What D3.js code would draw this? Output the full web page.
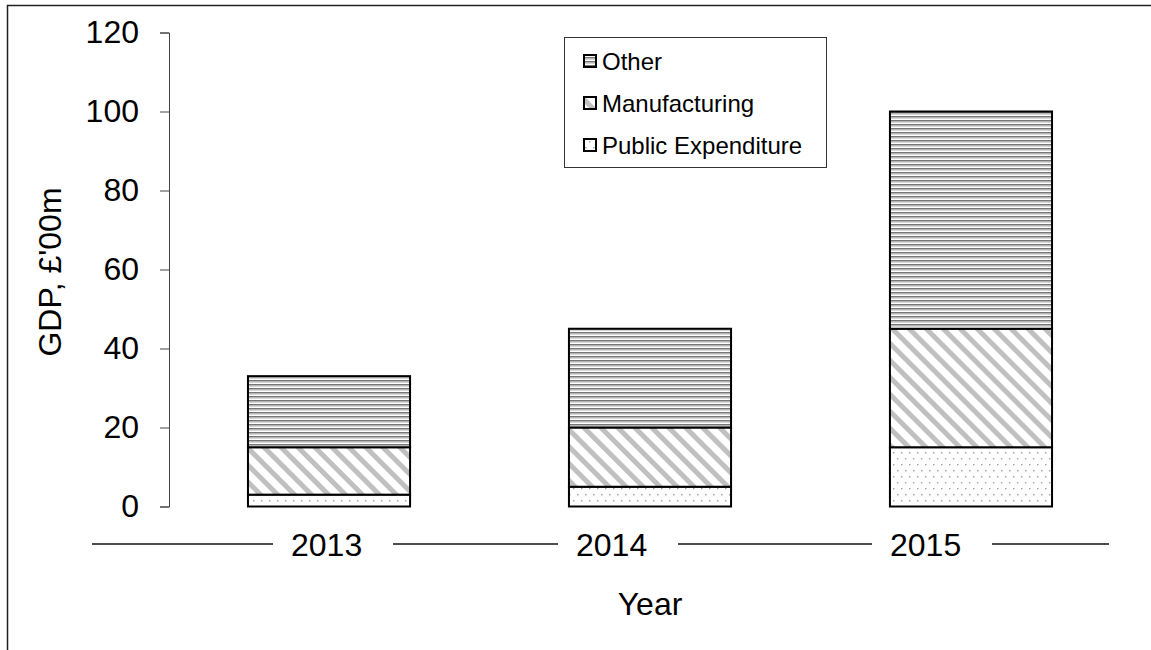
<!DOCTYPE html>
<html>
<head>
<meta charset="utf-8">
<script src="https://cdn.jsdelivr.net/npm/d3@7"></script>
<style>
  html, body { margin: 0; padding: 0; background: #fff; }
  svg { display: block; font-family: "Liberation Sans", Arial, sans-serif; }
</style>
</head>
<body>
<svg id="chart" width="1151" height="650"></svg>
<script>
// ---- data ----
const years = ["2013", "2014", "2015"];
const seriesNames = ["Public Expenditure", "Manufacturing", "Other"];
const publicExpenditure = [3, 5, 15];
const manufacturing = [12, 15, 30];
const other = [18, 25, 55];
const yTickValues = [0, 20, 40, 60, 80, 100, 120];
const legendOrder = ["Other", "Manufacturing", "Public Expenditure"];
const yTitle = "GDP, \u00a3'00m";
const xTitle = "Year";

// ---- layout ----
const W = 1151, H = 650;
const axisX = 169;
const FS = 32;
const y = d3.scaleLinear().domain([0, 120]).range([506.5, 32.5]);
const x = d3.scaleBand().domain(years).range([169, 1131]).paddingInner(0.495).paddingOuter(0.246);
// gaps in the x baseline where the year labels sit
const xLabelGap = d3.scaleOrdinal().domain(years).range([273, 558, 872]);
const gapWidth = 120;

const svg = d3.select("#chart");

// patterns
const defs = svg.append("defs");
const pOther = defs.append("pattern").attr("id", "pOther")
  .attr("patternUnits", "userSpaceOnUse").attr("width", 4).attr("height", 4);
pOther.append("rect").attr("width", 4).attr("height", 4).attr("fill", "#fff");
pOther.append("rect").attr("y", 0).attr("width", 4).attr("height", 1.5).attr("fill", "#777");
pOther.append("rect").attr("y", 1.5).attr("width", 4).attr("height", 1).attr("fill", "#b0b0b0");

const pMan = defs.append("pattern").attr("id", "pMan")
  .attr("patternUnits", "userSpaceOnUse").attr("width", 12).attr("height", 12)
  .attr("patternTransform", "rotate(-45)");
pMan.append("rect").attr("width", 12).attr("height", 12).attr("fill", "#fff");
pMan.append("rect").attr("x", 0).attr("width", 5).attr("height", 12).attr("fill", "#c0c0c0");

const pPub = defs.append("pattern").attr("id", "pPub")
  .attr("patternUnits", "userSpaceOnUse").attr("width", 8).attr("height", 12);
pPub.append("rect").attr("width", 8).attr("height", 12).attr("fill", "#fff");
pPub.append("rect").attr("x", 1).attr("y", 2).attr("width", 1.5).attr("height", 1.5).attr("fill", "#a8a8a8");
pPub.append("rect").attr("x", 5).attr("y", 8).attr("width", 1.5).attr("height", 1.5).attr("fill", "#a8a8a8");

const fills = {
  "Public Expenditure": "url(#pPub)",
  "Manufacturing": "url(#pMan)",
  "Other": "url(#pOther)"
};

// outer frame
svg.append("rect").attr("x", 7.5).attr("y", 5.5).attr("width", W).attr("height", H)
  .attr("fill", "none").attr("stroke", "#222").attr("stroke-width", 1.5);

// data table
const table = years.map((yr, i) => ({
  year: yr,
  "Public Expenditure": publicExpenditure[i],
  "Manufacturing": manufacturing[i],
  "Other": other[i]
}));
const stacked = d3.stack().keys(seriesNames)(table);

// bars
const gBars = svg.append("g");
stacked.forEach(layer => {
  gBars.selectAll(null).data(layer).enter().append("rect")
    .attr("x", d => x(d.data.year))
    .attr("y", d => y(d[1]))
    .attr("width", x.bandwidth())
    .attr("height", d => y(d[0]) - y(d[1]))
    .attr("fill", fills[layer.key])
    .attr("stroke", "#000")
    .attr("stroke-width", 2);
});

// y axis
const yAxis = d3.axisLeft(y).tickValues(yTickValues).tickSize(9).tickPadding(21).tickSizeOuter(9);
const gy = svg.append("g").attr("transform", `translate(${axisX},0)`).call(yAxis);
gy.selectAll("path, line").attr("stroke", "#444").attr("stroke-width", 1);
gy.selectAll("text").attr("font-size", FS).attr("fill", "#000")
  .attr("font-family", "'Liberation Sans', Arial, sans-serif");

// x baseline with gaps
svg.append("line").attr("x1", 92).attr("x2", 1109).attr("y1", 544).attr("y2", 544)
  .attr("stroke", "#111").attr("stroke-width", 1.6);
const gx = svg.append("g");
gx.selectAll("rect").data(years).enter().append("rect")
  .attr("x", d => xLabelGap(d)).attr("y", 530).attr("width", gapWidth).attr("height", 30)
  .attr("fill", "#fff");
gx.selectAll("text").data(years).enter().append("text")
  .attr("x", d => xLabelGap(d) + 18).attr("y", 556)
  .attr("font-size", FS).attr("fill", "#000")
  .text(d => d);

// axis titles
svg.append("text").attr("x", 650).attr("y", 615).attr("text-anchor", "middle")
  .attr("font-size", FS).text(xTitle);
svg.append("text").attr("transform", "translate(61,272) rotate(-90)")
  .attr("text-anchor", "middle").attr("font-size", FS).text(yTitle);

// legend
const lg = svg.append("g");
lg.append("rect").attr("x", 564.5).attr("y", 37.5).attr("width", 262).attr("height", 130)
  .attr("fill", "#fff").attr("stroke", "#333").attr("stroke-width", 1);
const ly = d3.scalePoint().domain(legendOrder).range([61, 145]);
const items = lg.selectAll("g.item").data(legendOrder).enter().append("g")
  .attr("transform", d => `translate(584,${ly(d)})`);
items.append("rect").attr("x", 0).attr("y", -6).attr("width", 12).attr("height", 12)
  .attr("fill", d => fills[d]).attr("stroke", "#000").attr("stroke-width", 2);
items.append("text").attr("x", 18).attr("y", 8.5).attr("font-size", 24).text(d => d);
</script>
</body>
</html>
